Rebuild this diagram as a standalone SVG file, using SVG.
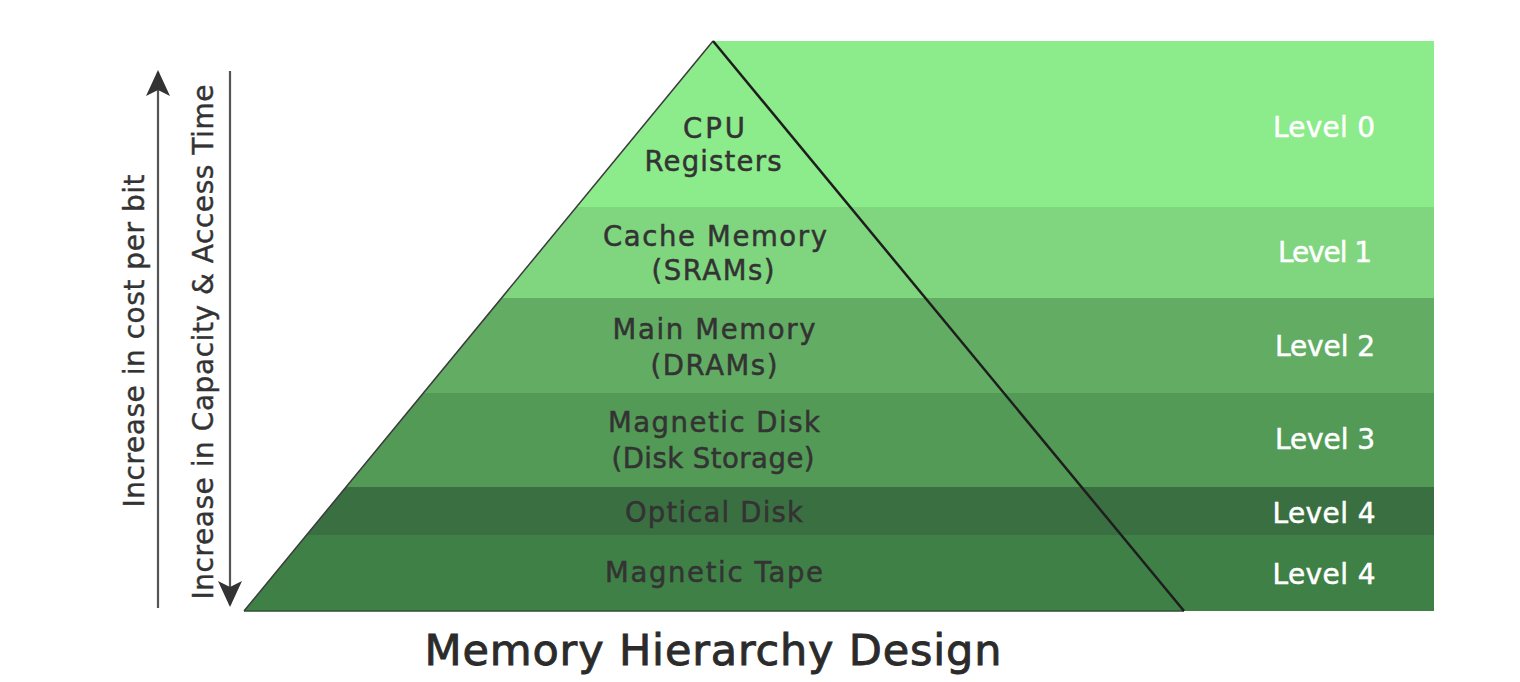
<svg xmlns="http://www.w3.org/2000/svg" width="1520" height="682" viewBox="0 0 1520 682">
<style>
.lbl{font-family:"DejaVu Sans","Noto Sans",sans-serif;font-size:27.5px;fill:#333;stroke:#333;stroke-width:0.5;text-anchor:middle}
.lvl{font-family:"DejaVu Sans","Noto Sans",sans-serif;font-size:28px;fill:#fff;stroke:#fff;stroke-width:0.5;text-anchor:middle}
.side{font-family:"DejaVu Sans","Noto Sans",sans-serif;font-size:28px;fill:#333;stroke:#333;stroke-width:0.4;text-anchor:middle}
.title{font-family:"DejaVu Sans","Noto Sans",sans-serif;font-size:43px;fill:#2b2b2b;stroke:#2b2b2b;stroke-width:0.9;text-anchor:middle}
.ax{stroke:#555;stroke-width:2.2;fill:none}
</style>
<defs>
<clipPath id="shape"><polygon points="713,41 1434,41 1434,611 244,611"/></clipPath>
<marker id="ah" viewBox="0 0 26 24" refX="24" refY="12" markerWidth="26" markerHeight="24" markerUnits="userSpaceOnUse" orient="auto"><path d="M0,0 L26,12 L0,24 L6,12 Z" fill="#333"/></marker>
</defs>
<rect width="1520" height="682" fill="#fff"/>
<g clip-path="url(#shape)">
<g id="level0"><rect x="0" y="41" width="1520" height="166" fill="#8ceb8a"/></g>
<g id="level1"><rect x="0" y="207" width="1520" height="91" fill="#7fd67f"/></g>
<g id="level2"><rect x="0" y="298" width="1520" height="95" fill="#62ad63"/></g>
<g id="level3"><rect x="0" y="393" width="1520" height="94" fill="#529a56"/></g>
<g id="level4a"><rect x="0" y="487" width="1520" height="48" fill="#3a7041"/></g>
<g id="level4b"><rect x="0" y="535" width="1520" height="76" fill="#3f8046"/></g>
</g>
<g id="pyramid-edges">
<line x1="713" y1="41" x2="244" y2="611" stroke="#3a3a3a" stroke-width="1.5"/>
<line x1="244" y1="611" x2="1184" y2="611" stroke="#2f4f33" stroke-width="1.5"/>
<line x1="713" y1="41" x2="1184" y2="611" stroke="#1e1e1e" stroke-width="2.5"/>
</g>
<g id="labels">
<text class="lbl" x="714" y="138" textLength="62">CPU</text>
<text class="lbl" x="713" y="171" textLength="137">Registers</text>
<text class="lbl" x="715" y="246" textLength="224">Cache Memory</text>
<text class="lbl" x="713" y="280" textLength="123">(SRAMs)</text>
<text class="lbl" x="714" y="339" textLength="203">Main Memory</text>
<text class="lbl" x="714" y="375" textLength="127">(DRAMs)</text>
<text class="lbl" x="714" y="432" textLength="212">Magnetic Disk</text>
<text class="lbl" x="713" y="468" textLength="203">(Disk Storage)</text>
<text class="lbl" x="714" y="522" textLength="178">Optical Disk</text>
<text class="lbl" x="714" y="582" textLength="218">Magnetic Tape</text>
<text class="lvl" x="1324" y="137" textLength="102">Level 0</text>
<text class="lvl" x="1325" y="262" textLength="94">Level 1</text>
<text class="lvl" x="1325" y="356" textLength="100">Level 2</text>
<text class="lvl" x="1325" y="449" textLength="100">Level 3</text>
<text class="lvl" x="1324" y="523" textLength="103">Level 4</text>
<text class="lvl" x="1324" y="584" textLength="103">Level 4</text>
</g>
<g id="connectors">
<line class="ax" x1="158" y1="608" x2="158" y2="72" marker-end="url(#ah)"/>
<line class="ax" x1="230" y1="71" x2="230" y2="605" marker-end="url(#ah)"/>
</g>
<g id="axis-labels">
<text class="side" transform="translate(144,341) rotate(-90)" textLength="333">Increase in cost per bit</text>
<text class="side" transform="translate(213,342) rotate(-90)" textLength="515">Increase in Capacity &amp; Access Time</text>
</g>
<g id="title"><text class="title" x="713" y="665" textLength="577">Memory Hierarchy Design</text></g>
</svg>
